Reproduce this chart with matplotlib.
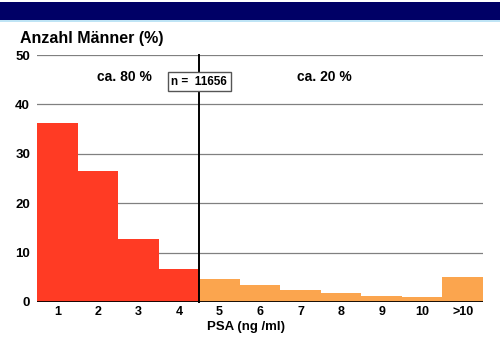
import matplotlib
matplotlib.use("Agg")
import matplotlib.pyplot as plt
from matplotlib.patches import Rectangle

categories = ["1", "2", "3", "4", "5", "6", "7", "8", "9", "10", ">10"]
values = [36.2, 26.6, 12.7, 6.6, 4.6, 3.4, 2.4, 1.9, 1.3, 1.0, 5.0]
colors = ["#FF3B24"] * 4 + ["#FBA54E"] * 7
yticks = [0, 10, 20, 30, 40, 50]

plt.rcParams["font.family"] = ["Liberation Sans", "DejaVu Sans"]

W, H = 500, 351
fig = plt.figure(figsize=(5, 3.51), dpi=100)
fig.patch.set_facecolor("white")

# top navy bar
fig.add_artist(Rectangle((0, 1 - 20 / H), 1, 18 / H, transform=fig.transFigure,
                         facecolor="#000066", edgecolor="none"))
fig.add_artist(Rectangle((0, 1 - 22 / H), 1, 2 / H, transform=fig.transFigure,
                         facecolor="#BFE4F5", edgecolor="none"))

ax = fig.add_axes([37 / W, (H - 302) / H, (483 - 37) / W, (302 - 55) / H])
x = list(range(len(categories)))
ax.bar(x, values, width=1.0, align="edge", color=colors, zorder=2)
for y in yticks[1:]:
    ax.axhline(y, color="#808080", lw=0.9, zorder=1)
ax.plot([4, 4], [0, 50], color="black", lw=1.4, zorder=3, clip_on=False)
ax.axhline(0, color="black", lw=2.0, zorder=3)

ax.set_xlim(0, 11)
ax.set_ylim(0, 50)
for s in ax.spines.values():
    s.set_visible(False)
ax.set_yticks(yticks)
ax.set_yticklabels([str(v) for v in yticks], fontsize=9.5, fontweight="bold")
ax.set_xticks([i + 0.5 for i in x])
ax.set_xticklabels(categories, fontsize=9, fontweight="bold")
ax.tick_params(axis="x", length=0, pad=3)
ax.tick_params(axis="y", length=0, pad=5)
ax.set_xlabel("PSA (ng /ml)", fontsize=9.5, fontweight="bold")
ax.xaxis.set_label_coords((246 - 37) / 446, -(327 - 302) / 247)
ax.xaxis.label.set_va("center")

ax.text(2.15, 45.5, "ca. 80 %", ha="center", va="center", fontsize=10, fontweight="bold")
ax.text(7.1, 45.5, "ca. 20 %", ha="center", va="center", fontsize=10, fontweight="bold")
ax.text(4.0, 44.6, "n =  11656", ha="center", va="center", fontsize=8.5, fontweight="bold",
        zorder=4, bbox=dict(boxstyle="square,pad=0.3", facecolor="white", edgecolor="#555555", lw=1))

fig.text(20 / W, 1 - 38 / H, "Anzahl Männer (%)", ha="left", va="center",
         fontsize=11.5, fontweight="bold")

fig.savefig("out.png", dpi=100)
